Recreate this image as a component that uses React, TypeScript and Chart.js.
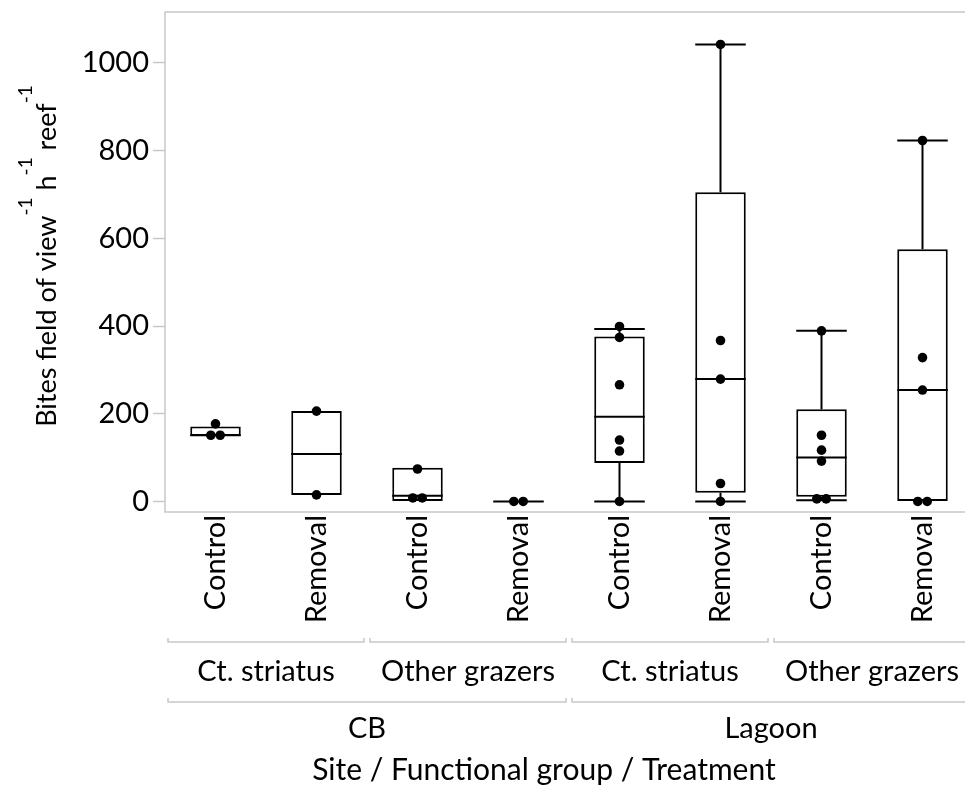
import React, { useEffect, useRef } from 'react';
import { Chart, registerables } from 'chart.js';

Chart.register(...registerables);

// ---- data ----
const treatments = ['Control', 'Removal', 'Control', 'Removal', 'Control', 'Removal', 'Control', 'Removal'];
const functionalGroups = ['Ct. striatus', 'Other grazers', 'Ct. striatus', 'Other grazers'];
const sites = ['CB', 'Lagoon'];
const whiskerLow = [149, 15, 0, 0, 0, 0, 3, 0];
const q1 = [149, 15, 0, 0, 88, 20, 11, 0];
const median = [151, 108, 13, 0, 193, 279, 100, 254];
const q3 = [171, 206, 77, 0, 376, 705, 210, 575];
const whiskerHigh = [171, 206, 77, 0, 393, 1042, 389, 823];
const pointsCBCtControl = [177, 151, 151];
const pointsCBCtRemoval = [206, 15];
const pointsCBOtherControl = [74, 8, 8];
const pointsCBOtherRemoval = [0, 0];
const pointsLagCtControl = [399, 374, 266, 140, 115, 0];
const pointsLagCtRemoval = [1042, 367, 279, 41, 0];
const pointsLagOtherControl = [389, 151, 117, 92, 6, 6];
const pointsLagOtherRemoval = [823, 328, 254, 0, 0];
const yTicks = [0, 200, 400, 600, 800, 1000];
const yTitleParts = ['Bites field of view', '-1', ' h', '-1', ' reef', '-1'];
const xTitle = 'Site / Functional group / Treatment';

const allPoints = [
  pointsCBCtControl, pointsCBCtRemoval, pointsCBOtherControl, pointsCBOtherRemoval,
  pointsLagCtControl, pointsLagCtRemoval, pointsLagOtherControl, pointsLagOtherRemoval,
];

const FONT = 'Lato';
const GRAY = '#c8c8c8';
const FS = 29;

function jittered() {
  const out: { x: number; y: number }[] = [];
  allPoints.forEach((vals, i) => {
    const seen: Record<string, number> = {};
    vals.forEach((v) => {
      const count = vals.filter((u) => u === v).length;
      const k = seen[v] || 0;
      seen[v] = k + 1;
      const off = count > 1 ? (k - (count - 1) / 2) * 0.093 : 0;
      out.push({ x: i + off, y: v });
    });
  });
  return out;
}

const extrasPlugin = {
  id: 'extras',
  afterDatasetDraw(chart: any, args: any) {
    if (args.index !== 0) return;
    const { ctx, scales } = chart;
    const y = scales.y;
    const meta = chart.getDatasetMeta(0);
    ctx.save();
    ctx.strokeStyle = '#000';
    ctx.lineWidth = 2;
    const line = (x0: number, y0: number, x1: number, y1: number) => {
      ctx.beginPath();
      ctx.moveTo(x0, y0);
      ctx.lineTo(x1, y1);
      ctx.stroke();
    };
    for (let i = 0; i < treatments.length; i++) {
      const cx = meta.data[i].x;
      const half = meta.data[i].width / 2;
      const ym = y.getPixelForValue(median[i]);
      line(cx - half, ym, cx + half, ym);
      if (whiskerHigh[i] > q3[i]) {
        const a = y.getPixelForValue(q3[i]);
        const b = y.getPixelForValue(whiskerHigh[i]);
        line(cx, a, cx, b);
        line(cx - half, b, cx + half, b);
      }
      if (whiskerLow[i] < q1[i]) {
        const a = y.getPixelForValue(q1[i]);
        const b = y.getPixelForValue(whiskerLow[i]);
        line(cx, a, cx, b);
        line(cx - half, b, cx + half, b);
      }
    }
    ctx.restore();
  },
  afterDraw(chart: any) {
    const { ctx, chartArea } = chart;
    const { left, right, top, bottom } = chartArea;
    ctx.save();
    // frame
    ctx.strokeStyle = GRAY;
    ctx.lineWidth = 1.5;
    ctx.strokeRect(left, top, right - left, bottom - top);

    // y title with superscripts
    ctx.fillStyle = '#000';
    ctx.textBaseline = 'alphabetic';
    ctx.textAlign = 'left';
    const yBig = `27px ${FONT}`;
    const ySmall = `19px ${FONT}`;
    let total = 0;
    const widths = yTitleParts.map((t, k) => {
      ctx.font = k % 2 === 1 ? ySmall : yBig;
      const w = ctx.measureText(t).width;
      total += w;
      return w;
    });
    ctx.save();
    ctx.translate(56, (top + bottom) / 2 - 6);
    ctx.rotate(-Math.PI / 2);
    let xp = -total / 2;
    yTitleParts.forEach((t, k) => {
      ctx.font = k % 2 === 1 ? ySmall : yBig;
      ctx.fillText(t, xp, k % 2 === 1 ? -24 : 0);
      xp += widths[k];
    });
    ctx.restore();

    // hierarchical x labels
    const n = treatments.length;
    const w = (right - left) / n;
    const bracket = (x0: number, x1: number, yy: number) => {
      ctx.strokeStyle = GRAY;
      ctx.lineWidth = 1.5;
      ctx.beginPath();
      ctx.moveTo(x0, yy - 4);
      ctx.lineTo(x0, yy);
      ctx.lineTo(x1, yy);
      ctx.lineTo(x1, yy - 4);
      ctx.stroke();
    };
    ctx.font = `${FS}px ${FONT}`;
    ctx.textAlign = 'center';
    ctx.fillStyle = '#000';
    const per1 = n / functionalGroups.length;
    functionalGroups.forEach((g, k) => {
      const x0 = left + k * per1 * w + 3;
      const x1 = left + (k + 1) * per1 * w - 3;
      bracket(x0, x1, bottom + 130);
      ctx.fillText(g, (x0 + x1) / 2, bottom + 169);
    });
    const per2 = n / sites.length;
    sites.forEach((s, k) => {
      const x0 = left + k * per2 * w + 3;
      const x1 = left + (k + 1) * per2 * w - 3;
      bracket(x0, x1, bottom + 190);
      ctx.fillText(s, (x0 + x1) / 2, bottom + 226);
    });
    ctx.font = `30px ${FONT}`;
    ctx.fillText(xTitle, left + (right - left) * 0.469, bottom + 268);
    ctx.restore();
  },
};

export default function App() {
  const ref = useRef<HTMLCanvasElement | null>(null);
  useEffect(() => {
    if (!ref.current) return;
    Chart.defaults.font.family = FONT;
    const chart = new Chart(ref.current, {
      type: 'bar',
      data: {
        labels: treatments,
        datasets: [
          {
            type: 'bar',
            data: q1.map((v, i) => [v, q3[i]]) as any,
            backgroundColor: '#ffffff',
            borderColor: '#000000',
            borderWidth: 2,
            borderSkipped: false,
            barPercentage: 0.5,
            categoryPercentage: 1,
            grouped: false,
            xAxisID: 'x',
            order: 2,
          } as any,
          {
            type: 'scatter',
            data: jittered(),
            backgroundColor: '#000',
            borderColor: '#000',
            pointRadius: 4.8,
            pointBorderWidth: 0,
            xAxisID: 'xs',
            order: 1,
          } as any,
        ],
      },
      options: {
        responsive: false,
        animation: false,
        devicePixelRatio: 1,
        layout: { padding: { top: 12, right: 7, left: 0, bottom: 0 } },
        plugins: { legend: { display: false }, tooltip: { enabled: false } },
        scales: {
          x: {
            type: 'category',
            offset: true,
            grid: { display: false, drawTicks: false },
            border: { display: false },
            ticks: {
              autoSkip: false,
              minRotation: 90,
              maxRotation: 90,
              padding: 3,
              color: '#000',
              font: { size: FS, family: FONT },
            },
            afterFit: (s: any) => {
              s.height = 282;
              s.paddingLeft = 0;
              s.paddingRight = 0;
            },
          },
          xs: {
            type: 'linear',
            display: false,
            offset: false,
            grid: { offset: false },
            min: -0.5,
            max: treatments.length - 0.5,
          },
          y: {
            type: 'linear',
            min: -24,
            max: 1116,
            grid: { drawOnChartArea: false, drawTicks: true, tickLength: 12, tickColor: GRAY, tickWidth: 1.5 },
            border: { display: false },
            ticks: {
              padding: 4,
              color: '#000',
              font: { size: FS, family: FONT },
              callback: (v: any) => String(v),
            },
            afterBuildTicks: (s: any) => { s.ticks = yTicks.map((v) => ({ value: v })); },
            afterFit: (s: any) => {
              s.width = 165;
              s.paddingTop = 0;
              s.paddingBottom = 0;
            },
          },
        },
      },
      plugins: [extrasPlugin],
    } as any);
    return () => chart.destroy();
  }, []);
  return (
    <div style={{ position: 'fixed', left: 0, top: 0, width: '100vw', height: '100vh', overflow: 'hidden', background: '#fff' }}>
      <canvas ref={ref} width={980} height={794} style={{ display: 'block', width: 980, height: 794 }} />
    </div>
  );
}
